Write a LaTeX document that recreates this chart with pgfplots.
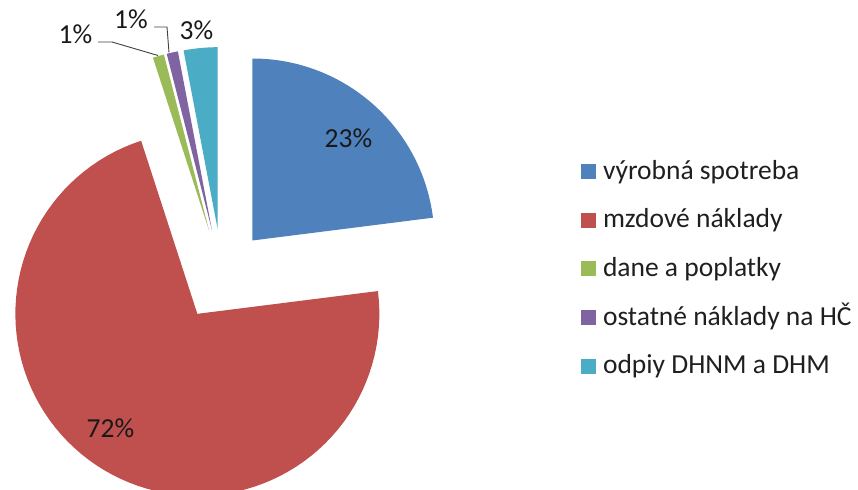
\documentclass[border=0pt]{standalone}
\usepackage{fontspec}
\setmainfont{Carlito}
\usepackage{pgfplots}
\usepackage{pgfplotstable}
\pgfplotsset{compat=1.18}
\definecolor{pieblue}{HTML}{4F81BD}
\definecolor{piered}{HTML}{C0504D}
\definecolor{piegreen}{HTML}{9BBB59}
\definecolor{piepurple}{HTML}{8064A2}
\definecolor{piecyan}{HTML}{4BACC6}
\newcommand\chartfont{\fontsize{27.5bp}{33bp}\selectfont}
\pgfplotstableread[col sep=comma]{
value,color,name
23,pieblue,výrobná spotreba
72,piered,mzdové náklady
1,piegreen,dane a poplatky
1,piepurple,ostatné náklady na HČ
3,piecyan,odpiy DHNM a DHM
}\piedata
\def\cx{222}\def\cy{215}\def\expl{46}\def\rad{182}
\xdef\astart{90}
\begin{document}
\begin{tikzpicture}
\useasboundingbox (0,0) rectangle (858bp,490bp);
\begin{axis}[
  at={(0,0)}, anchor=south west,
  scale only axis, width=858bp, height=490bp,
  xmin=0, xmax=858, ymin=0, ymax=490,
  hide axis,
  legend image code/.code={\fill[#1] (0bp,0bp) rectangle (15bp,15bp);},
  legend cell align=left,
  legend style={at={(axis cs:581,331)}, anchor=north west, draw=none, fill=none,
    inner sep=0pt, outer sep=0pt, font=\chartfont, text=black!88,
    row sep=22.7bp, column sep=7bp,
    cells={anchor=base west},
    nodes={inner sep=0pt, text height=20bp, text depth=6bp}},
]
\pgfplotsforeachungrouped \i in {0,...,4}{%
  \pgfplotstablegetelem{\i}{value}\of\piedata
  \pgfmathsetmacro\val{\pgfplotsretval}%
  \pgfplotstablegetelem{\i}{color}\of\piedata
  \edef\col{\pgfplotsretval}%
  \pgfplotstablegetelem{\i}{name}\of\piedata
  \edef\nm{\pgfplotsretval}%
  \pgfmathsetmacro\aend{\astart-3.6*\val}%
  \pgfmathsetmacro\amid{(\astart+\aend)/2}%
  \pgfmathsetmacro\ox{\cx+\expl*cos(\amid)}%
  \pgfmathsetmacro\oy{\cy+\expl*sin(\amid)}%
  \edef\doplot{\noexpand\addplot[fill=\col, draw=none, domain=\aend:\astart, samples=90]
    ({\ox+\rad*cos(x)},{\oy+\rad*sin(x)}) -- (axis cs:\ox,\oy) -- cycle;
    \noexpand\addlegendentry{\nm}}%
  \doplot
  \xdef\astart{\aend}%
}
\node[font=\chartfont, text=black!90, inner sep=0pt] at (axis cs:348.5,352) {23\%};
\node[font=\chartfont, text=black!90, inner sep=0pt] at (axis cs:110.5,61.5) {72\%};
\node[font=\chartfont, text=black!90, inner sep=0pt] at (axis cs:75.5,455.5) {1\%};
\node[font=\chartfont, text=black!90, inner sep=0pt] at (axis cs:131,470.5) {1\%};
\node[font=\chartfont, text=black!90, inner sep=0pt] at (axis cs:196.5,460) {3\%};
\draw[black!75, line width=0.9bp] (axis cs:98,448) -- (axis cs:112,448) -- (axis cs:158,434.5);
\draw[black!75, line width=0.9bp] (axis cs:154,463) -- (axis cs:167,463) -- (axis cs:169,437.5);
\end{axis}
\end{tikzpicture}
\end{document}
